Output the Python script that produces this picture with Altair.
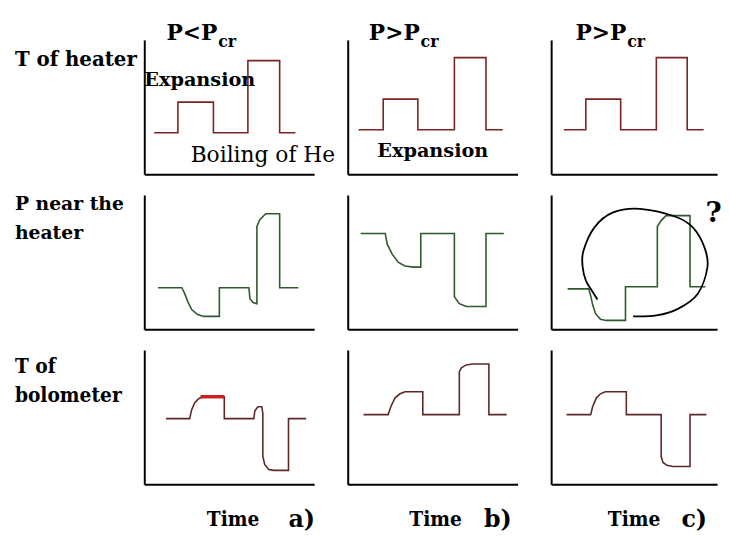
import altair as alt
import pandas as pd

# ---------------- data (time / value in relative units 0-100) ----------------
# Row 1: temperature of the heater
HEATER_A_T = [5.8, 19.8, 19.8, 40.7, 40.7, 61.0, 61.0, 79.7, 79.7, 89.0]
HEATER_A_V = [30.9, 30.9, 53.7, 53.7, 30.9, 30.9, 84.6, 84.6, 30.9, 30.9]
HEATER_B_T = [6.4, 20.9, 20.9, 41.3, 41.3, 62.8, 62.8, 81.4, 81.4, 91.3]
HEATER_B_V = [33.1, 33.1, 55.9, 55.9, 33.1, 33.1, 86.8, 86.8, 33.1, 33.1]
HEATER_C_T = [7.6, 20.9, 20.9, 41.9, 41.9, 63.4, 63.4, 82.0, 82.0, 91.9]
HEATER_C_V = [33.1, 33.1, 55.9, 55.9, 33.1, 33.1, 86.8, 86.8, 33.1, 33.1]

# Row 2: pressure near the heater
PRES_A_T = [8.1, 22.1, 23.8, 25.6, 27.9, 31.4, 34.9, 44.2, 44.2, 61.6, 62.2, 64.0,
            66.3, 66.3, 68.0, 71.5, 79.7, 79.7, 90.7]
PRES_A_V = [30.9, 30.9, 26.5, 20.6, 14.7, 11.0, 9.6, 9.6, 30.9, 30.9, 22.8, 19.9,
            19.1, 76.5, 81.6, 86.0, 86.0, 30.9, 30.9]
PRES_B_T = [7.6, 22.1, 23.3, 26.2, 29.7, 33.7, 38.4, 43.0, 43.0, 62.8, 62.8, 65.7,
            69.8, 81.4, 81.4, 91.9]
PRES_B_V = [71.3, 71.3, 63.2, 55.9, 50.0, 47.1, 46.3, 46.3, 71.3, 71.3, 24.3, 19.1,
            16.9, 16.9, 71.3, 71.3]
PRES_C_T = [9.9, 22.7, 23.8, 25.0, 26.7, 29.7, 33.1, 44.8, 44.8, 64.0, 64.0, 66.3,
            69.2, 83.7, 83.7, 93.0]
PRES_C_V = [30.1, 30.1, 25.0, 18.4, 11.8, 7.4, 6.6, 6.6, 31.6, 31.6, 76.5, 80.9,
            84.6, 84.6, 31.6, 31.6]
# hand-drawn loop around panel c)
LOOP_T = [49.4, 63.4, 76.7, 88.4, 94.2, 92.4, 85.5, 75.0, 53.5, 37.0, 26.0, 19.4,
          19.0, 21.0, 24.6, 27.9]
LOOP_V = [9.6, 10.3, 15.4, 26.5, 46.3, 61.0, 75.7, 83.8, 89.7, 86.8, 75.7, 58.1,
          46.3, 36.0, 28.7, 22.1]

# Row 3: temperature of the bolometer
BOLO_A_T = [12.8, 26.7, 27.9, 29.7, 32.0, 34.3, 47.1, 47.1, 64.5, 65.1, 66.9, 69.2,
            69.8, 69.8, 70.9, 73.3, 76.2, 84.9, 84.9, 95.3]
BOLO_A_V = [48.9, 48.9, 55.6, 60.7, 63.7, 65.2, 65.2, 48.9, 48.9, 54.8, 57.8, 57.8,
            52.6, 20.7, 14.8, 11.1, 10.4, 10.4, 48.9, 48.9]
BOLO_A_HOT_T = [33.1, 47.1]
BOLO_A_HOT_V = [65.2, 65.2]
BOLO_B_T = [9.3, 23.8, 25.6, 27.9, 30.8, 33.7, 44.2, 44.2, 65.7, 65.7, 66.9, 69.8,
            73.3, 83.1, 83.1, 93.6]
BOLO_B_V = [51.9, 51.9, 58.5, 64.4, 67.4, 68.9, 68.9, 51.9, 51.9, 83.7, 86.7, 88.9,
            89.6, 89.6, 51.9, 51.9]
BOLO_C_T = [9.3, 23.8, 25.0, 27.3, 29.7, 32.6, 45.3, 45.3, 66.3, 66.3, 67.4, 69.8,
            73.3, 83.7, 83.7, 93.6]
BOLO_C_V = [51.9, 51.9, 57.8, 64.4, 67.4, 68.9, 68.9, 51.9, 51.9, 20.7, 16.3, 14.1,
            13.3, 13.3, 51.9, 51.9]

# texts
ROW_LABELS = [["T of heater"], ["P near the", "heater"], ["T of", "bolometer"]]
COL_MAIN = ["P<P", "P>P", "P>P"]
COL_SUB = ["cr", "cr", "cr"]
COL_ANCHOR = [43.0, 42.4, 45.3]
TIME_LABEL = "Time"
TIME_X = [52.3, 51.7, 50.0]
CASE_LABELS = ["a)", "b)", "c)"]
CASE_X = [84.9, 80.2, 78.5]

# ---------------- layout / style ----------------
W = [172, 172, 168]
LABEL_W = 99
H = 136
TITLE_H = 4
SERIF_D = "DejaVu Serif"
SERIF_C = "DejaVu Serif Condensed, DejaVu Serif"
RED = "#7a2424"
GREEN = "#2e5a2e"
BOLO = "#5e2828"
HOT = "#cc1f1f"

XS = alt.Scale(domain=[0, 100], nice=False, zero=False)
YS = alt.Scale(domain=[0, 100], nice=False, zero=False)
YS_T = alt.Scale(domain=[0, TITLE_H], nice=False, zero=False)
AX = dict(domain=True, domainColor="black", domainWidth=2, ticks=False,
          labels=False, grid=False, title=None)


def line_layer(t, v, color, width=1.6, interp="linear"):
    df = pd.DataFrame({"t": t, "v": v, "i": list(range(len(t)))})
    return alt.Chart(df).mark_line(color=color, strokeWidth=width,
                                   interpolate=interp).encode(
        x=alt.X("t:Q", scale=XS, axis=alt.Axis(**AX)),
        y=alt.Y("v:Q", scale=YS, axis=alt.Axis(**AX)),
        order=alt.Order("i:Q"),
    )


def text_layer(xs, ys, texts, font, size, weight="bold", align="left",
               yscale=YS, axes=True):
    df = pd.DataFrame({"x": xs, "y": ys, "s": texts})
    ax_x = alt.Axis(**AX) if axes else None
    ax_y = alt.Axis(**AX) if axes else None
    return alt.Chart(df).mark_text(
        align=align, baseline="alphabetic", font=font, fontSize=size,
        fontWeight=weight, color="black",
    ).encode(
        x=alt.X("x:Q", scale=XS, axis=ax_x),
        y=alt.Y("y:Q", scale=yscale, axis=ax_y),
        text="s:N",
    )


cells = []

# ---------- title row ----------
cells.append(text_layer([0], [0], [""], SERIF_D, 10, yscale=YS_T, axes=False)
             .properties(width=LABEL_W, height=TITLE_H))
for k in range(3):
    main = text_layer([COL_ANCHOR[k]], [-21], [COL_MAIN[k]], SERIF_D, 22,
                      align="right", yscale=YS_T, axes=False)
    sub = text_layer([COL_ANCHOR[k] + 0.5], [-28.5], [COL_SUB[k]], SERIF_D, 16,
                     yscale=YS_T, axes=False)
    cells.append(alt.layer(main, sub).properties(width=W[k], height=TITLE_H))

# ---------- row labels ----------
lab1 = text_layer([2], [80.9], ROW_LABELS[0], SERIF_D, 20, axes=False)
lab2 = text_layer([2, 2], [89.0, 66.9], ROW_LABELS[1], SERIF_D, 19, axes=False)
lab3 = text_layer([2, 2], [83.0, 61.0], ROW_LABELS[2], SERIF_C, 21, axes=False)

# ---------- row 1 ----------
r1a = alt.layer(
    line_layer(HEATER_A_T, HEATER_A_V, RED),
    text_layer([0], [65.4], ["Expansion"], SERIF_D, 19.5),
    text_layer([27.3], [8.8], ["Boiling of He"], SERIF_D, 22, weight="normal"),
)
r1b = alt.layer(
    line_layer(HEATER_B_T, HEATER_B_V, RED),
    text_layer([17.4], [12.5], ["Expansion"], SERIF_D, 19.5),
)
r1c = line_layer(HEATER_C_T, HEATER_C_V, RED)

# ---------- row 2 ----------
r2a = line_layer(PRES_A_T, PRES_A_V, GREEN)
r2b = line_layer(PRES_B_T, PRES_B_V, GREEN)
r2c = alt.layer(
    line_layer(PRES_C_T, PRES_C_V, GREEN),
    line_layer(LOOP_T, LOOP_V, "black", width=1.8, interp="cardinal"),
    text_layer([93.0], [80.0], ["?"], SERIF_D, 28),
)


# ---------- row 3 ----------
def bottom_texts(k):
    return [
        text_layer([TIME_X[k]], [-31.0], [TIME_LABEL], SERIF_C, 21, align="center"),
        text_layer([CASE_X[k]], [-31.5], [CASE_LABELS[k]], SERIF_D, 24),
    ]


r3a = alt.layer(
    line_layer(BOLO_A_T, BOLO_A_V, BOLO),
    line_layer(BOLO_A_HOT_T, BOLO_A_HOT_V, HOT, width=3.5),
    *bottom_texts(0),
)
r3b = alt.layer(line_layer(BOLO_B_T, BOLO_B_V, BOLO), *bottom_texts(1))
r3c = alt.layer(line_layer(BOLO_C_T, BOLO_C_V, BOLO), *bottom_texts(2))

for label, a, b, c in [(lab1, r1a, r1b, r1c), (lab2, r2a, r2b, r2c),
                       (lab3, r3a, r3b, r3c)]:
    cells.append(label.properties(width=LABEL_W, height=H))
    cells.append(a.properties(width=W[0], height=H))
    cells.append(b.properties(width=W[1], height=H))
    cells.append(c.properties(width=W[2], height=H))

chart = alt.concat(
    *cells, columns=4, spacing={"row": 21, "column": 34}, bounds="flush"
).properties(
    padding={"left": 5, "top": 0, "right": 0, "bottom": 0},
    background="white",
).configure_view(stroke=None)

chart.save("out.html", embed_options={"renderer": "svg", "actions": False})
